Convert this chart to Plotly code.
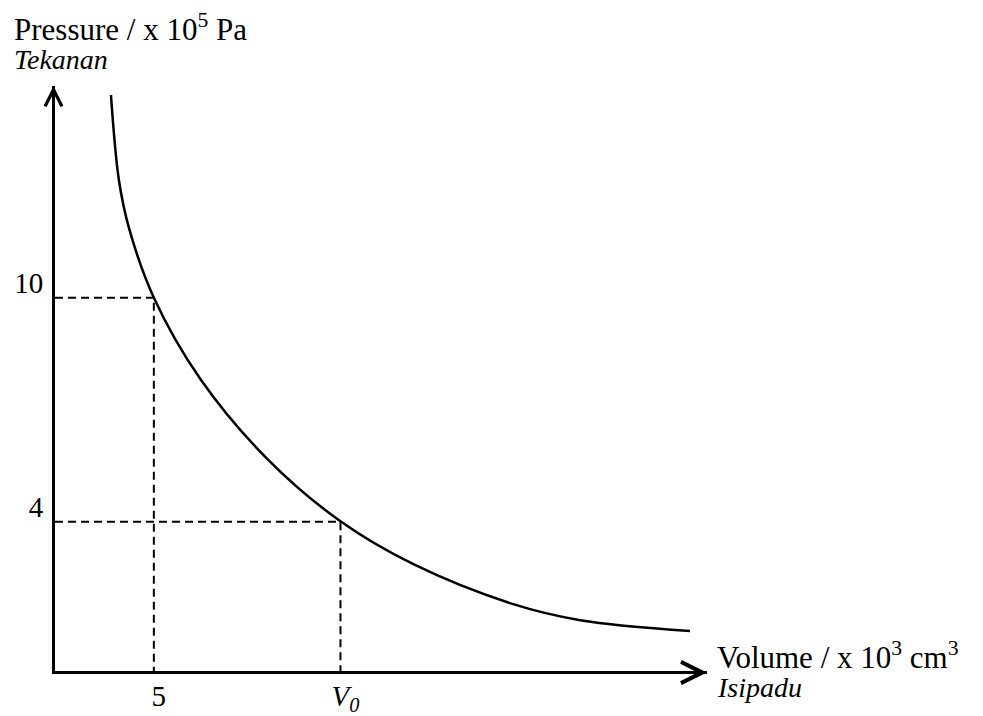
import plotly.graph_objects as go

# Curve (drawing units: volume / x10^3 cm^3, pressure / x10^5 Pa)
volume_curve = [2.83, 3.23, 3.74, 5.0, 7.37, 10.76, 14.44, 18.13, 23.18, 26.57, 32.12]
pressure_curve = [15.43, 13.16, 11.87, 10.0, 7.81, 5.67, 4.01, 2.86, 1.79, 1.36, 1.07]

# Marked points
v_marks = [5.0, 14.44]
p_marks = [10.0, 4.0]

x_tick_vals = [5.0, 14.44]
x_tick_text = ["5", "<i>V<sub>0</sub></i>"]
y_tick_vals = [10.0, 4.0]
y_tick_text = ["10", "4"]

x_max = 32.98
y_max = 15.67

FONT = "Liberation Serif, Times New Roman, serif"

fig = go.Figure()

fig.add_trace(go.Scatter(
    x=volume_curve, y=pressure_curve, mode="lines",
    line=dict(color="black", width=2.5, shape="spline", smoothing=1.0),
    hoverinfo="skip", showlegend=False))

for v, p in zip(v_marks, p_marks):
    fig.add_trace(go.Scatter(
        x=[0, v, v], y=[p, p, 0], mode="lines",
        line=dict(color="black", width=2, dash="8px,5px"),
        hoverinfo="skip", showlegend=False))

fig.update_xaxes(range=[0, x_max], showline=True, linecolor="black", linewidth=3,
                 showgrid=False, zeroline=False, ticks="", automargin=False,
                 tickmode="array", tickvals=x_tick_vals, ticktext=x_tick_text,
                 tickfont=dict(family=FONT, size=29, color="black"),
                 ticklabelstandoff=-3, ticklabelshift=5)
fig.update_yaxes(range=[0, y_max], showline=True, linecolor="black", linewidth=3,
                 showgrid=False, zeroline=False, ticks="", automargin=False,
                 tickmode="array", tickvals=y_tick_vals, ticktext=y_tick_text,
                 tickfont=dict(family=FONT, size=29, color="black"),
                 ticklabelshift=-15, ticklabelstandoff=3)

annotations = [
    dict(x=x_max, y=0, xref="x", yref="y", ax=x_max - 0.6, ay=0, axref="x", ayref="y",
         text="", showarrow=True, arrowhead=5, arrowwidth=3, arrowsize=1.4,
         arrowcolor="black", standoff=0, yshift=-1.5),
    dict(x=0, y=y_max, xref="x", yref="y", ax=0, ay=y_max - 0.3, axref="x", ayref="y",
         text="", showarrow=True, arrowhead=5, arrowwidth=3, arrowsize=1.1,
         arrowcolor="black", standoff=0, xshift=-1.5),
    dict(x=-0.066, y=1.1, xref="paper", yref="paper", xanchor="left", yanchor="middle",
         text="Pressure / x 10<sup>5</sup> Pa", showarrow=False,
         font=dict(family=FONT, size=31, color="black")),
    dict(x=-0.066, y=1.045, xref="paper", yref="paper", xanchor="left", yanchor="middle",
         text="<i>Tekanan</i>", showarrow=False,
         font=dict(family=FONT, size=28, color="black")),
    dict(x=1.013, y=0.026, xref="paper", yref="paper", xanchor="left", yanchor="middle",
         text="Volume / x 10<sup>3</sup> cm<sup>3</sup>", showarrow=False,
         font=dict(family=FONT, size=31, color="black")),
    dict(x=1.013, y=-0.028, xref="paper", yref="paper", xanchor="left", yanchor="middle",
         text="<i>Isipadu</i>", showarrow=False,
         font=dict(family=FONT, size=28, color="black")),
]

# the page places the figure 8 px in from the top-left corner
fig.update_layout(width=975, height=708,
                  margin=dict(l=47, r=276, t=78, b=45),
                  paper_bgcolor="white", plot_bgcolor="white",
                  annotations=annotations, showlegend=False)

fig.write_html("out.html")
